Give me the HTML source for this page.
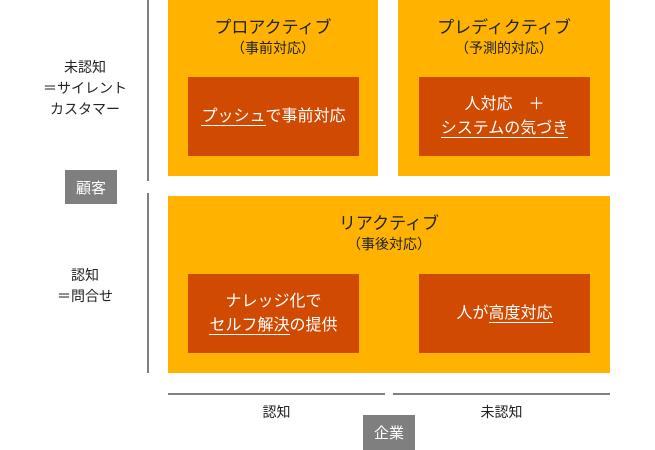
<!DOCTYPE html>
<html><head><meta charset="utf-8"><style>
body{margin:0;width:655px;height:450px;background:#fff;position:relative;overflow:hidden;font-family:"Liberation Sans","Noto Sans CJK JP",sans-serif;}
div{position:absolute;box-sizing:border-box}
.y{background:#FFB300}
.r{background:#D04A02;color:#fff;font-size:16px;text-align:center;display:flex;flex-direction:column;justify-content:center;align-items:center;line-height:24px}
.t{color:#222;text-align:center;font-size:17px;line-height:20px}
.s{font-size:14px}
.g{background:#7f7f7f;color:#fff;font-size:15px;display:flex;align-items:center;justify-content:center}
.l{color:#222;font-size:14px;text-align:center;line-height:21px}
u{text-decoration:none;border-bottom:1.5px solid #fff}
</style></head><body>
<div style="left:147px;top:0;width:2px;height:181px;background:#7f7f7f"></div>
<div style="left:147px;top:193px;width:2px;height:180px;background:#7f7f7f"></div>
<div style="left:168px;top:393px;width:217px;height:2px;background:#7f7f7f"></div>
<div style="left:393px;top:393px;width:217px;height:2px;background:#7f7f7f"></div>

<div class="y" style="left:168px;top:0;width:210px;height:176px"></div>
<div class="t" style="left:168px;top:18px;width:210px">プロアクティブ<br><span class="s">（事前対応）</span></div>
<div class="r" style="left:188px;top:77px;width:171px;height:79px"><div style="position:static"><u>プッシュ</u>で事前対応</div></div>

<div class="y" style="left:398px;top:0;width:212px;height:176px"></div>
<div class="t" style="left:398px;top:18px;width:212px">プレディクティブ<br><span class="s">（予測的対応）</span></div>
<div class="r" style="left:419px;top:77px;width:171px;height:79px"><div style="position:static">人対応　＋<br><u>システムの気づき</u></div></div>

<div class="y" style="left:168px;top:196px;width:442px;height:177px"></div>
<div class="t" style="left:168px;top:214px;width:442px">リアクティブ<br><span class="s">（事後対応）</span></div>
<div class="r" style="left:188px;top:274px;width:171px;height:79px"><div style="position:static">ナレッジ化で<br><u>セルフ解決</u>の提供</div></div>
<div class="r" style="left:419px;top:274px;width:171px;height:79px"><div style="position:static">人が<u>高度対応</u></div></div>

<div class="l" style="left:40px;top:57px;width:90px">未認知<br>＝サイレント<br>カスタマー</div>
<div class="l" style="left:40px;top:265px;width:90px">認知<br>＝問合せ</div>
<div class="g" style="left:65px;top:170px;width:52px;height:34px">顧客</div>
<div class="l" style="left:168px;top:402px;width:217px">認知</div>
<div class="l" style="left:393px;top:402px;width:217px">未認知</div>
<div class="g" style="left:363px;top:415px;width:52px;height:35px">企業</div>
</body></html>
